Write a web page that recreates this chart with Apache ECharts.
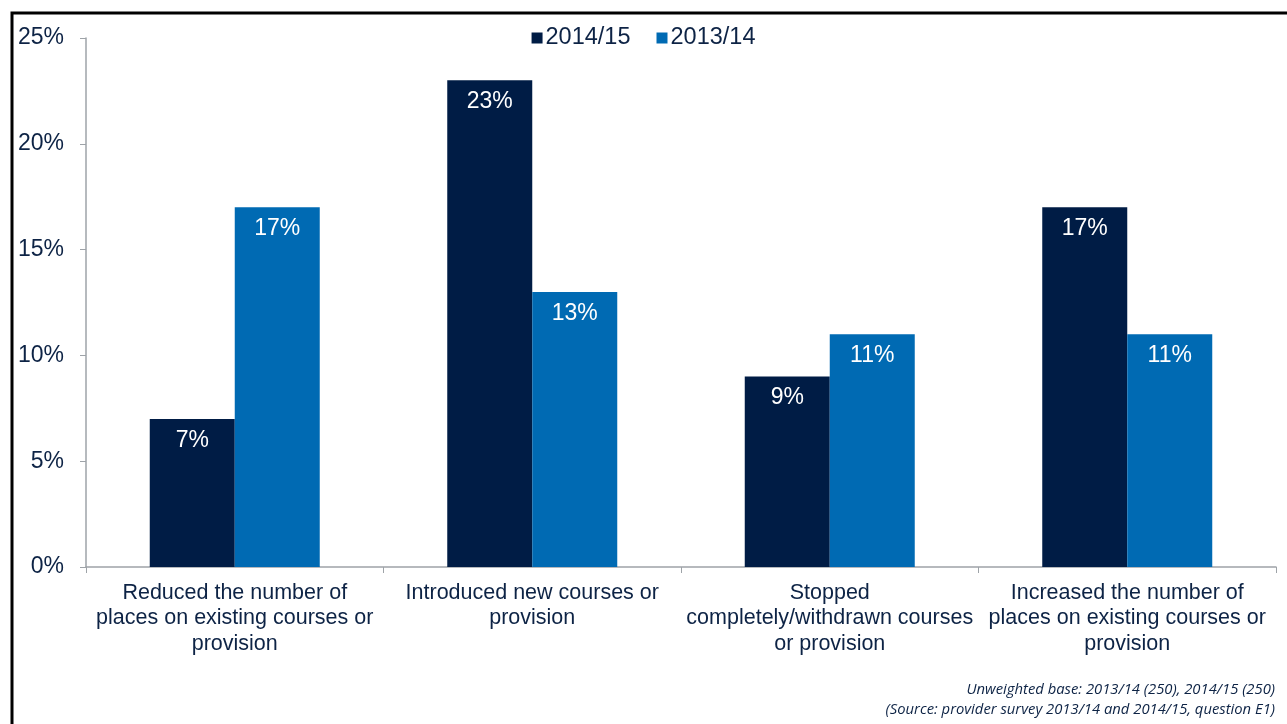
<!DOCTYPE html>
<html>
<head>
<meta charset="utf-8">
<script src="https://cdn.jsdelivr.net/npm/echarts@6/dist/echarts.min.js"></script>
<style>
html,body{margin:0;padding:0;background:#fff;}
#chart{width:1287px;height:724px;}
</style>
</head>
<body>
<div id="chart"></div>
<script>
const categories = [
  "Reduced the number of\nplaces on existing courses or\nprovision",
  "Introduced new courses or\nprovision",
  "Stopped\ncompletely/withdrawn courses\nor provision",
  "Increased the number of\nplaces on existing courses or\nprovision"
];
const seriesNames = ["2014/15", "2013/14"];
const values201415 = [7, 23, 9, 17];
const values201314 = [17, 13, 11, 11];
const yTicks = [0, 5, 10, 15, 20, 25];
const footnotes = [
  "Unweighted base: 2013/14 (250), 2014/15 (250)",
  "(Source: provider survey 2013/14 and 2014/15, question E1)"
];

const textColor = '#0d2345';
const chart = echarts.init(document.getElementById('chart'), null, {renderer: 'canvas'});
const labelStyle = {
  show: true, position: 'insideTop', distance: 10,
  color: '#ffffff', fontSize: 23, fontFamily: 'Liberation Sans',
  formatter: p => p.value + '%'
};
chart.setOption({
  animation: false,
  backgroundColor: '#ffffff',
  legend: {
    top: 21, left: 'center',
    itemWidth: 11, itemHeight: 11, itemGap: 26,
    icon: 'rect',
    textStyle: {color: textColor, fontSize: 23.5, fontFamily: 'Liberation Sans', padding: [0,0,0,-2]},
    data: seriesNames
  },
  grid: {left: 86, right: 11, top: 38, bottom: 157, containLabel: false},
  xAxis: {
    type: 'category', data: categories,
    axisLine: {lineStyle: {color: '#9ea3a8', width: 1.5}},
    axisTick: {show: true, length: 6, lineStyle: {color: '#9ea3a8'}},
    axisLabel: {color: textColor, fontSize: 21.5, fontFamily: 'Liberation Sans', lineHeight: 25.5, margin: 13, interval: 0}
  },
  yAxis: {
    type: 'value', min: yTicks[0], max: yTicks[yTicks.length-1], interval: 5,
    axisLine: {show: true, lineStyle: {color: '#9ea3a8', width: 1.5}},
    axisTick: {show: true, length: 6, lineStyle: {color: '#9ea3a8'}},
    splitLine: {show: false},
    axisLabel: {color: textColor, fontSize: 23, fontFamily: 'Liberation Sans', margin: 22, padding: [3,0,0,0], formatter: v => v + '%'}
  },
  series: [
    {name: seriesNames[0], type: 'bar', data: values201415, barWidth: 85, barGap: '0%',
     itemStyle: {color: '#001c45'}, label: labelStyle},
    {name: seriesNames[1], type: 'bar', data: values201314, barWidth: 85,
     itemStyle: {color: '#006ab3'}, label: labelStyle}
  ],
  graphic: [
    {type: 'polyline', shape: {points: [[12, 730], [12, 13], [1300, 13]]},
     style: {stroke: '#000', lineWidth: 3, fill: null}, silent: true},
    {type: 'text', right: 12, top: 682,
     style: {text: footnotes[0], fill: textColor, font: 'italic 14.8px "Open Sans"', textAlign: 'right'}},
    {type: 'text', right: 12, top: 702,
     style: {text: footnotes[1], fill: textColor, font: 'italic 14.8px "Open Sans"', textAlign: 'right'}}
  ]
});
</script>
</body>
</html>
